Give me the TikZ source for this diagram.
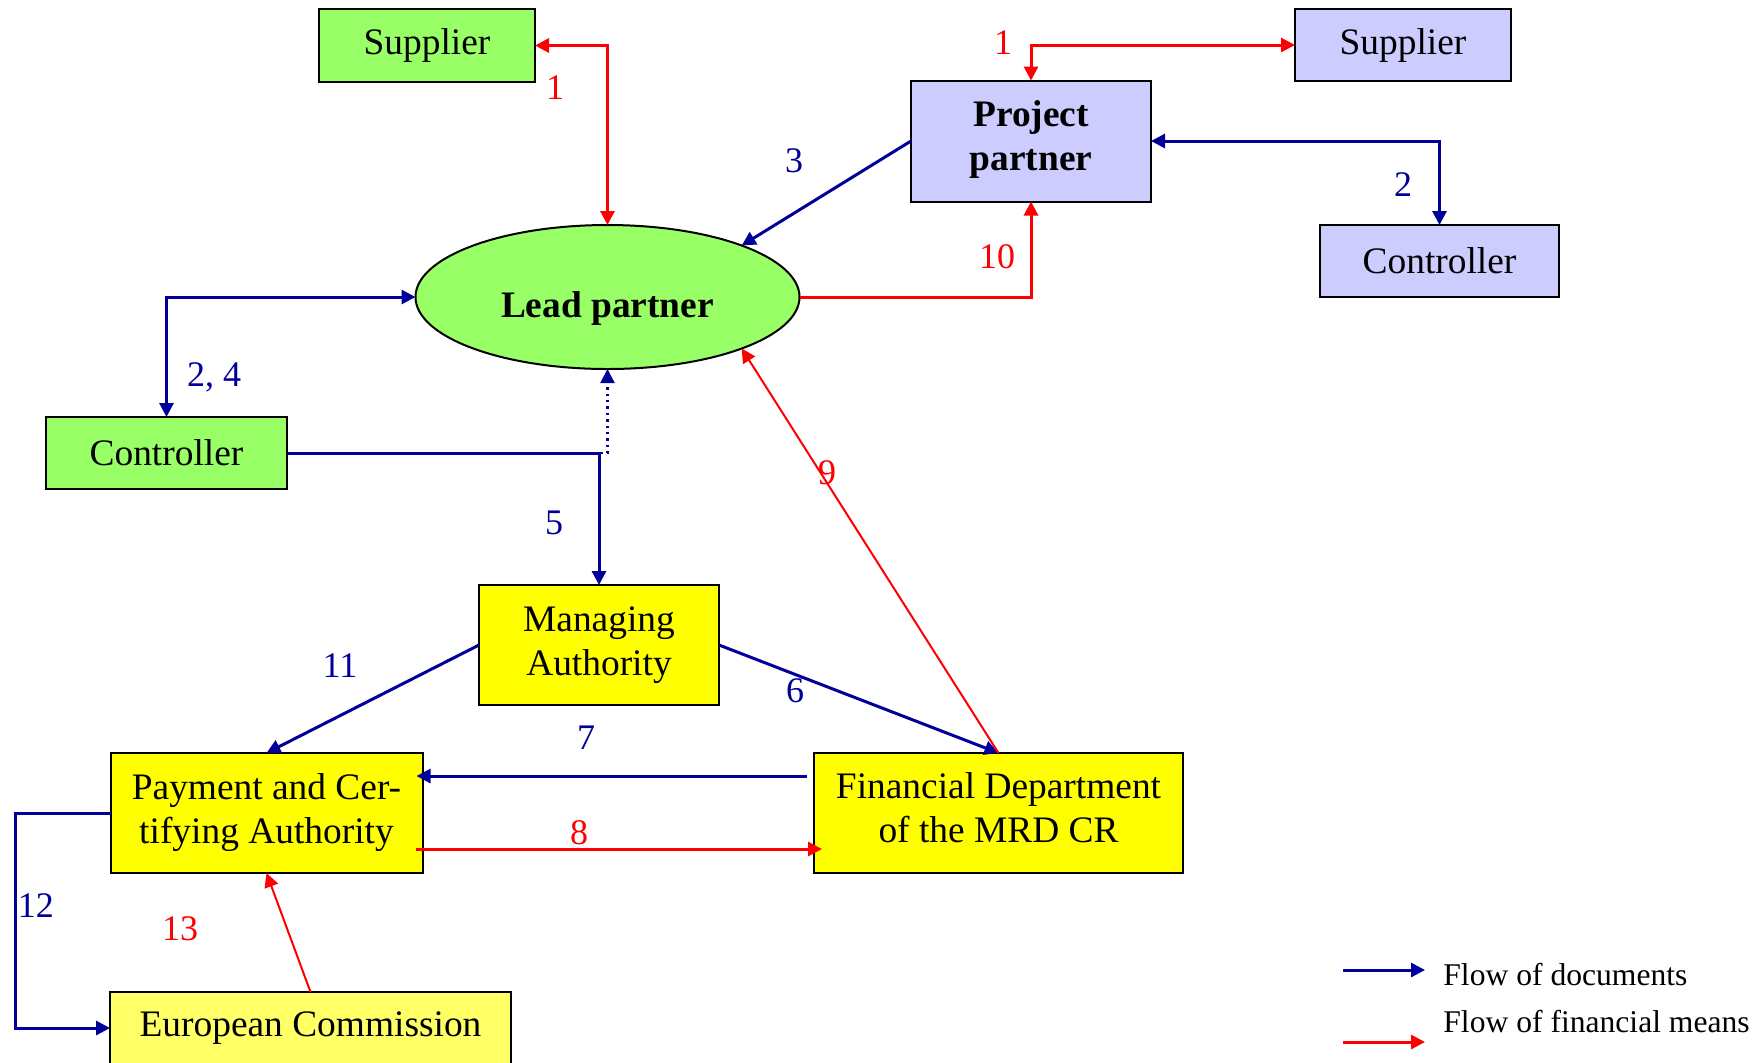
\documentclass[tikz,border=0pt]{standalone}
\usepackage{fontspec}
\setmainfont{Liberation Serif}
\usetikzlibrary{arrows.meta, shapes.geometric}
\definecolor{leadgreen}{HTML}{99FF66}
\definecolor{partnerblue}{HTML}{CCCCFF}
\definecolor{authyellow}{HTML}{FFFF00}
\definecolor{ecyellow}{HTML}{FFFF66}
\definecolor{docblue}{HTML}{000099}
\definecolor{moneyred}{HTML}{FF0000}
\tikzset{
	funding flow/.is family,
	funding flow/.cd,
	box/.style = {
		draw = black,
		line width = 1pt,
		rectangle,
		align = center,
		inner sep = 0pt,
		outer sep = 0pt,
		font = \fontsize{18.7}{22}\selectfont,
	},
	document/.style = {
		draw = docblue,
		line width = 1.5pt,
		> = {Triangle[length = 7pt, width = 7pt]},
	},
	money/.style = {
		draw = moneyred,
		line width = 1.5pt,
		> = {Triangle[length = 7pt, width = 7pt]},
	},
	document label/.style = {
		text = docblue,
		inner sep = 0pt,
		font = \fontsize{18}{20}\selectfont,
	},
	money label/.style = {
		text = moneyred,
		inner sep = 0pt,
		font = \fontsize{18}{20}\selectfont,
	},
	legend text/.style = {
		anchor = west,
		inner sep = 0pt,
		font = \fontsize{15.8}{18}\selectfont,
	},
}

\begin{document}
\begin{tikzpicture}[
		x = 0.5pt,
		y = -0.5pt,
		green box/.style = {
			funding flow/box,
			fill = leadgreen,
		},
		partner box/.style = {
			funding flow/box,
			fill = partnerblue,
		},
		authority box/.style = {
			funding flow/box,
			fill = authyellow,
		}]
		\useasboundingbox (0, 0) rectangle (1764, 1062);
		% lead partner side
		\node[green box, minimum width = 108pt, minimum height = 36.5pt] (supplierA) at (427, 45.5) {Supplier};
		\node[funding flow/box, shape = ellipse, fill = leadgreen, font = \fontsize{18.7}{22}\selectfont\bfseries, text height = 24pt, minimum width = 192pt, minimum height = 72pt] (lead) at (607.5, 297) {Lead partner};
		\node[green box, minimum width = 120.5pt, minimum height = 36pt] (controllerA) at (166.5, 453) {Controller};
		% project partner side
		\node[partner box, minimum width = 108pt, minimum height = 36pt] (supplierB) at (1403, 45) {Supplier};
		\node[partner box, font = \fontsize{18.7}{22}\selectfont\bfseries, text depth = 5.5pt, minimum width = 120pt, minimum height = 60.5pt] (partner) at (1031, 141) {Project\\partner};
		\node[partner box, minimum width = 119.5pt, minimum height = 36pt] (controllerB) at (1439.5, 261) {Controller};
		% authorities
		\node[authority box, minimum width = 120pt, minimum height = 60pt] (managing) at (599, 645) {Managing\\Authority};
		\node[authority box, minimum width = 156pt, minimum height = 60pt] (paying) at (266.5, 813) {Payment and Cer-\\tifying Authority};
		\node[authority box, text depth = 5pt, minimum width = 184.5pt, minimum height = 60pt] (finance) at (998.5, 813) {Financial Department\\of the MRD CR};
		\node[funding flow/box, fill = ecyellow, minimum width = 200.5pt, minimum height = 36pt] (commission) at (310.5, 1028) {European Commission};
		% flows of documents
		\draw[funding flow/document, <->] (partner.east) -| (controllerB.north);
		\draw[funding flow/document, <->] (controllerA.north) |- (lead.west);
		\draw[funding flow/document, ->] (partner.west) -- (lead.21);
		\draw[funding flow/document, ->] (controllerA.east) -| (managing.north);
		\draw[funding flow/document, ->, line width = 1.2pt, dotted] (controllerA.east) -| (lead.south);
		\draw[funding flow/document, ->] (managing.west) -- (paying.north);
		\draw[funding flow/document, ->] (managing.east) -- (finance.north);
		\draw[funding flow/document, ->] ([xshift = -3.5pt, yshift = 18.5pt] finance.west) -- ([xshift = -3pt, yshift = 18.5pt] paying.east);
		\coordinate (bend12) at (15, 813);
		\draw[funding flow/document, ->] (paying.west) -- (bend12) |- (commission.west);
		% flows of financial means
		\draw[funding flow/money, <->] (supplierA.east) -| (lead.north);
		\draw[funding flow/money, <->] (partner.north) |- (supplierB.west);
		\draw[funding flow/money, ->] (lead.east) -| (partner.south);
		\draw[funding flow/money, ->, line width = 1pt] (finance.north) -- (lead.-21);
		\draw[funding flow/money, ->] ([xshift = -3.5pt, yshift = -18pt] paying.east) -- ([xshift = 4pt, yshift = -18pt] finance.west);
		\draw[funding flow/money, ->, line width = 1pt] (commission.north) -- (paying.south);
		% numbers
		\node[funding flow/money label] (num1a) at (555, 88) {1};
		\node[funding flow/money label] (num1b) at (1003, 43) {1};
		\node[funding flow/document label] (num2) at (1403, 185) {2};
		\node[funding flow/document label] (num24) at (214, 377) {2, 4};
		\node[funding flow/document label] (num3) at (794, 161) {3};
		\node[funding flow/document label] (num5) at (554, 523) {5};
		\node[funding flow/document label] (num6) at (795, 691) {6};
		\node[funding flow/document label] (num7) at (586, 738) {7};
		\node[funding flow/money label] (num8) at (579, 833) {8};
		\node[funding flow/money label] (num9) at (827, 473) {9};
		\node[funding flow/money label] (num10) at (997, 257) {10};
		\node[funding flow/document label] (num11) at (340, 666) {11};
		\node[funding flow/document label] (num12) at (36, 906) {12};
		\node[funding flow/money label] (num13) at (180, 929) {13};
		% legend
		\coordinate (docfrom) at (1343, 970);
		\coordinate (docto) at (1425, 970);
		\coordinate (moneyfrom) at (1343, 1042);
		\coordinate (moneyto) at (1425, 1042);
		\draw[funding flow/document, ->] (docfrom) -- (docto);
		\draw[funding flow/money, ->] (moneyfrom) -- (moneyto);
		\node[funding flow/legend text] (docnote) at (1443, 975) {Flow of documents};
		\node[funding flow/legend text] (moneynote) at (1443, 1022) {Flow of financial means};
	\end{tikzpicture}
\end{document}
